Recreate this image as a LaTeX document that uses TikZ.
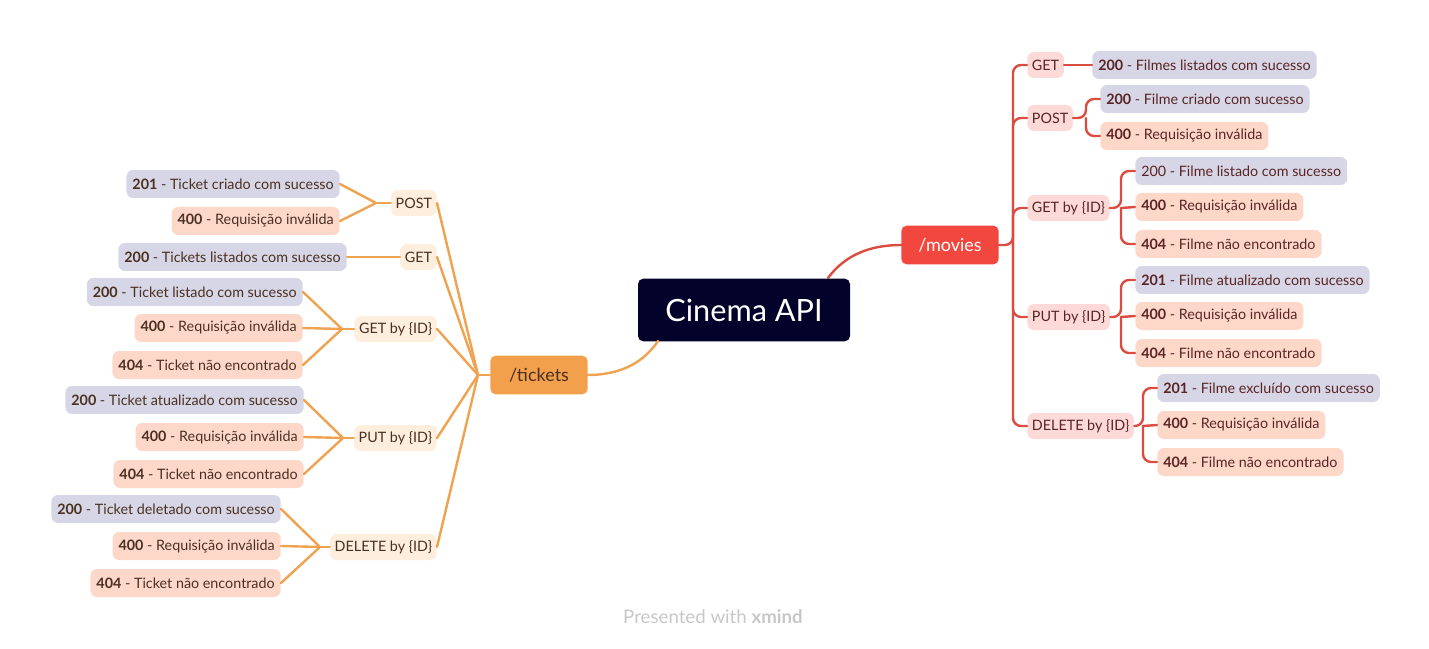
\documentclass[tikz,border=0pt]{standalone}
\usepackage{fontspec}
\setmainfont{Lato}
\usepackage{xcolor}
\usetikzlibrary{calc,positioning}
\definecolor{rootbg}{HTML}{02022A}
\definecolor{moviesbg}{HTML}{F2473E}
\definecolor{redline}{HTML}{DC4B3F}
\definecolor{ticketsbg}{HTML}{F3A04D}
\definecolor{orangeline}{HTML}{EFA24F}
\definecolor{mmethodbg}{HTML}{FDDAD7}
\definecolor{tmethodbg}{HTML}{FDEEDD}
\definecolor{okbg}{HTML}{D6D6E6}
\definecolor{errbg}{HTML}{FDD8C9}
\definecolor{mtext}{HTML}{5A2424}
\definecolor{ttext}{HTML}{4A3020}

\begin{document}
\begin{tikzpicture}[
  x=0.75pt,y=-0.75pt,
  line cap=round,
  line join=round,
  rootnode/.style={fill=rootbg,text=white,rounded corners=4pt,
    minimum width=159pt,minimum height=47pt,font=\fontsize{23}{27}\selectfont},
  routenode/.style={rounded corners=4pt,minimum width=73pt,minimum height=29pt,
    font=\fontsize{13.5}{15}\selectfont},
  smallbox/.style={rounded corners=5pt,inner xsep=4.5pt,inner ysep=0pt,
    font=\fontsize{10.75}{12}\selectfont},
  mmethod/.style={smallbox,inner xsep=3.5pt,fill=mmethodbg,text=mtext,minimum height=19.5pt},
  tmethod/.style={smallbox,inner xsep=3.5pt,fill=tmethodbg,text=ttext,minimum height=19.5pt},
  mok/.style={smallbox,fill=okbg,text=mtext,minimum height=21pt},
  merr/.style={smallbox,fill=errbg,text=mtext,minimum height=21pt},
  tok/.style={smallbox,fill=okbg,text=ttext,minimum height=21pt},
  terr/.style={smallbox,fill=errbg,text=ttext,minimum height=21pt},
  mline/.style={redline,line width=1.8pt,rounded corners=6pt},
  tline/.style={orangeline,line width=1.8pt}
]
\path[use as bounding box] (0,0) rectangle (1429,649);

% centre and the two routes
\node[rootnode] (root) at (744,310) {Cinema API};
\node[routenode,fill=moviesbg,text=white] (movies) at (950,245) {/movies};
\node[routenode,fill=ticketsbg,text=ttext] (tickets) at (539,375) {/tickets};

\coordinate (rootm) at (828,278);
\coordinate (roott) at (658,341);
\draw[redline,line width=1.8pt] (rootm) .. controls (845,255) and (870,245) .. (movies.west);
\draw[tline] (roott) .. controls (640,368) and (612,375) .. (tickets.east);

% /movies methods
\node[mmethod,anchor=west] (mget) at (1027,65) {GET};
\node[mmethod,anchor=west] (mpost) at (1027,118) {POST};
\node[mmethod,anchor=west] (mgetid) at (1027,208) {GET by \{ID\}};
\node[mmethod,anchor=west] (mput) at (1027,317) {PUT by \{ID\}};
\node[mmethod,anchor=west] (mdel) at (1027,426) {DELETE by \{ID\}};

\coordinate (mj) at (1013,245);
\draw[mline] (movies.east) -- (mj) |- (mget.west);
\draw[mline] (mj) |- (mpost.west);
\draw[mline] (mj) |- (mgetid.west);
\draw[mline] (mj) |- (mput.west);
\draw[mline] (mj) |- (mdel.west);

% /movies answers
\node[mok,anchor=west] (mget200) at (1092,65) {\textbf{200} - Filmes listados com sucesso};
\node[mok,anchor=west] (mpost200) at (1100,99) {\textbf{200} - Filme criado com sucesso};
\node[merr,anchor=west] (mpost400) at (1100,136) {\textbf{400} - Requisição inválida};
\node[mok,anchor=west] (mgetid200) at (1135,171) {200 - Filme listado com sucesso};
\node[merr,anchor=west] (mgetid400) at (1135,207) {\textbf{400} - Requisição inválida};
\node[merr,anchor=west] (mgetid404) at (1135,244) {\textbf{404} - Filme não encontrado};
\node[mok,anchor=west] (mput201) at (1135,280) {\textbf{201} - Filme atualizado com sucesso};
\node[merr,anchor=west] (mput400) at (1135,316) {\textbf{400} - Requisição inválida};
\node[merr,anchor=west] (mput404) at (1135,353) {\textbf{404} - Filme não encontrado};
\node[mok,anchor=west] (mdel201) at (1157,388) {\textbf{201} - Filme excluído com sucesso};
\node[merr,anchor=west] (mdel400) at (1157,425) {\textbf{400} - Requisição inválida};
\node[merr,anchor=west] (mdel404) at (1157,462) {\textbf{404} - Filme não encontrado};

\draw[mline] (mget.east) -- (mget200.west);
\coordinate (mpj) at (1086,118);
\draw[mline] (mpost.east) -- (mpj) |- (mpost200.west);
\draw[mline] (mpj) |- (mpost400.west);
\coordinate (mgj) at (1121,208);
\draw[mline] (mgetid.east) -- (mgj) |- (mgetid200.west);
\draw[mline] (mgj) |- (mgetid404.west);
\draw[mline] (mgj) -- (mgetid400.west);
\coordinate (muj) at (1121,317);
\draw[mline] (mput.east) -- (muj) |- (mput201.west);
\draw[mline] (muj) |- (mput404.west);
\draw[mline] (muj) -- (mput400.west);
\coordinate (mdj) at (1143,426);
\draw[mline] (mdel.east) -- (mdj) |- (mdel201.west);
\draw[mline] (mdj) |- (mdel404.west);
\draw[mline] (mdj) -- (mdel400.west);

% /tickets methods
\node[tmethod,anchor=east] (tpost) at (437,203) {POST};
\node[tmethod,anchor=east] (tget) at (437,257) {GET};
\node[tmethod,anchor=east] (tgetid) at (437,329) {GET by \{ID\}};
\node[tmethod,anchor=east] (tput) at (437,438) {PUT by \{ID\}};
\node[tmethod,anchor=east] (tdel) at (437,547) {DELETE by \{ID\}};

\coordinate (tj) at (478,375);
\draw[tline] (tickets.west) -- (tj);
\foreach \m in {tpost,tget,tgetid,tput,tdel}
  \draw[tline] (tj) -- (\m.east);

% /tickets answers
\node[tok,anchor=east] (tpost201) at (340,184) {\textbf{201} - Ticket criado com sucesso};
\node[terr,anchor=east] (tpost400) at (340,221) {\textbf{400} - Requisição inválida};
\node[tok,anchor=east] (tget200) at (347,257) {\textbf{200} - Tickets listados com sucesso};
\node[tok,anchor=east] (tgetid200) at (303,292) {\textbf{200} - Ticket listado com sucesso};
\node[terr,anchor=east] (tgetid400) at (303,328) {\textbf{400} - Requisição inválida};
\node[terr,anchor=east] (tgetid404) at (303,365) {\textbf{404} - Ticket não encontrado};
\node[tok,anchor=east] (tput200) at (304,400) {\textbf{200} - Ticket atualizado com sucesso};
\node[terr,anchor=east] (tput400) at (304,437) {\textbf{400} - Requisição inválida};
\node[terr,anchor=east] (tput404) at (304,474) {\textbf{404} - Ticket não encontrado};
\node[tok,anchor=east] (tdel200) at (281,509) {\textbf{200} - Ticket deletado com sucesso};
\node[terr,anchor=east] (tdel400) at (281,546) {\textbf{400} - Requisição inválida};
\node[terr,anchor=east] (tdel404) at (281,583) {\textbf{404} - Ticket não encontrado};

\coordinate (tpj) at (376,203);
\draw[tline] (tpost.west) -- (tpj);
\draw[tline] (tpj) -- (tpost201.east);
\draw[tline] (tpj) -- (tpost400.east);
\draw[tline] (tget.west) -- (tget200.east);
\coordinate (tgj) at (342,329);
\draw[tline] (tgetid.west) -- (tgj);
\foreach \l in {tgetid200,tgetid400,tgetid404}
  \draw[tline] (tgj) -- (\l.east);
\coordinate (tuj) at (343,438);
\draw[tline] (tput.west) -- (tuj);
\foreach \l in {tput200,tput400,tput404}
  \draw[tline] (tuj) -- (\l.east);
\coordinate (tdj) at (320,547);
\draw[tline] (tdel.west) -- (tdj);
\foreach \l in {tdel200,tdel400,tdel404}
  \draw[tline] (tdj) -- (\l.east);

\node[text=black!22,font=\fontsize{14}{16}\selectfont] (credit) at (713,617)
  {Presented with \textbf{xmind}};
\end{tikzpicture}
\end{document}
